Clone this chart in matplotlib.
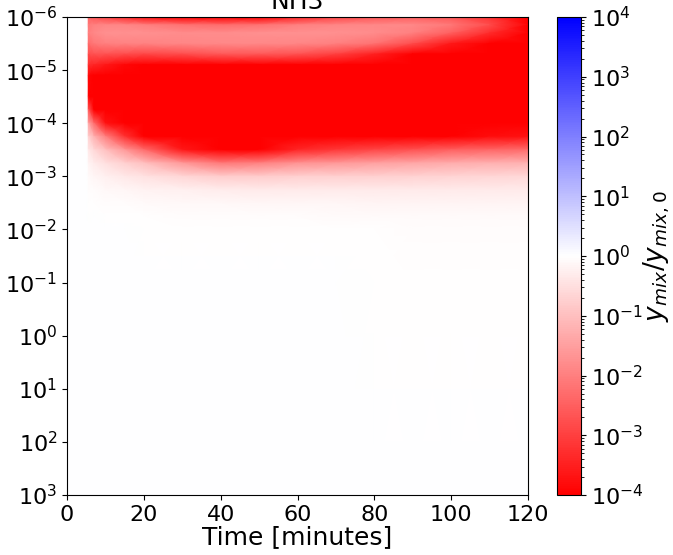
import numpy as np
import matplotlib
matplotlib.use('Agg')
import matplotlib.pyplot as plt
from matplotlib.colors import LogNorm

# time axis [minutes] of each profile
times = [0, 5.2, 5.6, 7, 10, 15, 20, 30, 40, 50, 60, 70, 80, 90, 100, 110, 120]
# log10 of pressure levels
log_p = [-6, -5.85, -5.7, -5.5, -5.3, -5.1, -4.9, -4.5, -4.25, -4.0,
         -3.75, -3.5, -3.25, -3.0, -2.75, -2.5, -2.25, -2.0, -1.0, 3.0]

# log10(y_mix / y_mix,0) per time, one value per pressure level
prof_t0 = [0] * 20
prof_t5a = [0] * 20
prof_t5b = [-2.4, -2.1, -2.0, -2.3, -2.8, -3.3, -3.9, -4.5, -2.6, -1.4, -0.7, -0.35, -0.18, -0.09, -0.05, -0.02, -0.01, 0, 0, 0]
prof_t7 = [-2.6, -2.0, -1.85, -2.1, -2.7, -3.4, -4.2, -5, -4.0, -2.3, -1.2, -0.6, -0.3, -0.13, -0.06, -0.02, 0, 0, 0, 0]
prof_t10 = [-2.9, -1.9, -1.75, -2.0, -2.7, -3.6, -4.5, -5, -5, -3.7, -2.0, -1.0, -0.5, -0.25, -0.1, -0.04, -0.01, 0, 0, 0]
prof_t15 = [-3.3, -1.9, -1.75, -1.95, -2.8, -3.9, -5, -5, -5, -5, -3.2, -1.6, -0.75, -0.35, -0.15, -0.06, -0.02, 0, 0, 0]
prof_t20 = [-3.7, -2.0, -1.75, -1.95, -2.9, -4.1, -5, -5, -5, -5, -4.2, -2.3, -1.0, -0.45, -0.2, -0.08, -0.03, -0.01, 0, 0]
prof_t30 = [-4.3, -2.2, -1.8, -1.9, -2.8, -4.1, -5, -5, -5, -5, -5, -3.6, -1.6, -0.65, -0.25, -0.1, -0.04, -0.01, 0, 0]
prof_t40 = [-4.5, -2.3, -1.8, -1.85, -2.6, -4.0, -5, -5, -5, -5, -5, -4.2, -2.1, -0.8, -0.3, -0.12, -0.05, -0.02, 0, 0]
prof_t50 = [-4.2, -2.2, -1.75, -1.85, -2.6, -4.0, -5, -5, -5, -5, -5, -4.0, -2.0, -0.8, -0.32, -0.13, -0.05, -0.02, 0, 0]
prof_t60 = [-3.4, -2.0, -1.75, -1.9, -2.7, -4.1, -5, -5, -5, -5, -5, -3.4, -1.7, -0.75, -0.32, -0.14, -0.06, -0.02, 0, 0]
prof_t70 = [-2.9, -1.9, -1.75, -2.0, -3.0, -4.5, -5, -5, -5, -5, -4.5, -3.1, -1.6, -0.75, -0.33, -0.15, -0.07, -0.03, 0, 0]
prof_t80 = [-2.6, -1.85, -1.8, -2.2, -3.5, -5, -5, -5, -5, -5, -4.3, -2.9, -1.5, -0.72, -0.33, -0.16, -0.08, -0.03, -0.01, 0]
prof_t90 = [-2.5, -1.85, -2.0, -2.8, -4.3, -5, -5, -5, -5, -5, -4.1, -2.7, -1.4, -0.7, -0.34, -0.17, -0.08, -0.04, -0.01, 0]
prof_t100 = [-2.6, -2.1, -2.5, -3.6, -5, -5, -5, -5, -5, -5, -4.0, -2.5, -1.3, -0.68, -0.34, -0.17, -0.09, -0.04, -0.01, 0]
prof_t110 = [-3.2, -2.8, -3.3, -4.5, -5, -5, -5, -5, -5, -5, -3.8, -2.4, -1.25, -0.65, -0.33, -0.17, -0.09, -0.04, -0.01, 0]
prof_t120 = [-4.5, -4.5, -5, -5, -5, -5, -5, -5, -5, -5, -3.7, -2.3, -1.2, -0.62, -0.32, -0.17, -0.09, -0.04, -0.01, 0]

profiles = [prof_t0, prof_t5a, prof_t5b, prof_t7, prof_t10, prof_t15, prof_t20, prof_t30,
            prof_t40, prof_t50, prof_t60, prof_t70, prof_t80, prof_t90, prof_t100,
            prof_t110, prof_t120]

cbar_ticks = [1e-4, 1e-3, 1e-2, 1e-1, 1e0, 1e1, 1e2, 1e3, 1e4]

ratio = 10.0 ** np.array(profiles).T
T, P = np.meshgrid(times, 10.0 ** np.array(log_p))

fig = plt.figure(figsize=(6.73, 5.55), dpi=100)
ax = fig.add_axes([0.0996, 0.108, 0.685, 0.8614])
cax = fig.add_axes([0.8276, 0.108, 0.0357, 0.8614])

mesh = ax.pcolormesh(T, P, ratio, shading='gouraud', cmap='bwr_r',
                     norm=LogNorm(vmin=1e-4, vmax=1e4), rasterized=True)
ax.set_yscale('log')
ax.set_ylim(1e3, 1e-6)
ax.set_xlim(0, 120)
ax.set_xticks([0, 20, 40, 60, 80, 100, 120])
ax.set_yticks([10.0 ** k for k in range(-6, 4)])
ax.minorticks_off()
ax.tick_params(labelsize=16)
ax.set_xlabel('Time [minutes]', fontsize=18, labelpad=0)
ax.set_title('NH3', fontsize=18)

cb = fig.colorbar(mesh, cax=cax, ticks=cbar_ticks)
cb.ax.tick_params(labelsize=16)
cb.set_label(r'$y_{mix}/y_{mix,0}$', fontsize=19, labelpad=-1)

fig.savefig('out.png', dpi=100)
